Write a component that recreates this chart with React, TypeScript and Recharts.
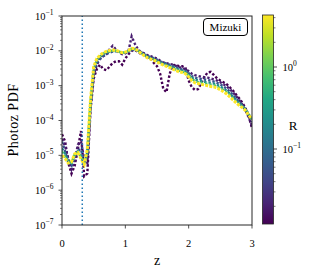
import React from 'react';
import { LineChart, Line, XAxis, YAxis, ReferenceLine } from 'recharts';

const FONT = "'Liberation Serif', 'DejaVu Serif', serif";
const INK = '#262626';

const Z = [0,0.05,0.1,0.15,0.2,0.25,0.3,0.35,0.4,0.45,0.5,0.55,0.6,0.65,0.7,0.75,0.8,0.85,0.9,0.95,1,1.05,1.1,1.15,1.2,1.25,1.3,1.35,1.4,1.45,1.5,1.55,1.6,1.65,1.7,1.75,1.8,1.85,1.9,1.95,2,2.05,2.1,2.15,2.2,2.25,2.3,2.35,2.4,2.45,2.5,2.55,2.6,2.65,2.7,2.75,2.8,2.85,2.9,2.95,3];

const P1 = [4e-5,2.5e-5,6e-6,3e-6,5e-6,1.5e-5,5e-5,2.5e-6,3e-6,2e-4,
  1.6e-3,3e-3,4e-3,3e-3,2.8e-3,3.5e-3,4.5e-3,5e-3,5e-3,4e-3,
  6e-3,8e-3,1.0e-2,1.05e-2,9.5e-3,8e-3,7.5e-3,6.5e-3,6e-3,4.5e-3,
  3.6e-3,2.2e-3,8e-4,6.5e-4,2.2e-3,3.8e-3,4e-3,3.6e-3,3.6e-3,3.2e-3,
  1.4e-3,9e-4,7.5e-4,8e-4,1.2e-3,1.8e-3,2.4e-3,2.5e-3,2e-3,1.6e-3,
  1.4e-3,1.25e-3,1.1e-3,9e-4,7.2e-4,5.5e-4,4.3e-4,3.2e-4,2.2e-4,1.3e-4,
  6e-5];
const P2 = [3e-5,1.8e-5,8e-6,4e-6,7e-6,2e-5,2.5e-5,8e-6,6e-6,2.5e-4,
  2e-3,4e-3,6e-3,7e-3,8e-3,1.1e-2,1.4e-2,1.1e-2,9e-3,8e-3,
  8.5e-3,1.0e-2,2.6e-2,1.6e-2,1.1e-2,9e-3,8.5e-3,7.5e-3,7e-3,6.5e-3,
  6e-3,5.2e-3,4.6e-3,4.4e-3,4.2e-3,4e-3,3.7e-3,3.4e-3,3.2e-3,3e-3,
  2.6e-3,2.2e-3,2e-3,1.9e-3,1.8e-3,1.75e-3,1.7e-3,1.6e-3,1.5e-3,1.4e-3,
  1.25e-3,1.1e-3,9.5e-4,8e-4,6.4e-4,5e-4,3.8e-4,2.8e-4,1.9e-4,1.2e-4,
  7e-5];
const B = [2.5e-5,1.3e-5,6e-6,5e-6,9e-6,1.4e-5,1.5e-5,6e-6,1e-5,3e-4,
  2.5e-3,4.6e-3,5.8e-3,7e-3,8e-3,8.9e-3,9.5e-3,9.8e-3,9.4e-3,8.9e-3,
  8.8e-3,9.3e-3,1.06e-2,1.1e-2,1.0e-2,9e-3,8e-3,7.2e-3,6.6e-3,6.2e-3,
  5.6e-3,5.0e-3,4.6e-3,4.3e-3,4.0e-3,3.7e-3,3.4e-3,3.1e-3,2.9e-3,2.7e-3,
  2.3e-3,1.9e-3,1.7e-3,1.6e-3,1.55e-3,1.5e-3,1.45e-3,1.4e-3,1.3e-3,1.2e-3,
  1.08e-3,9.5e-4,8.2e-4,6.8e-4,5.4e-4,4.3e-4,3.4e-4,2.7e-4,2.0e-4,1.4e-4,
  9e-5];
const T = [1.6e-5,1.1e-5,7e-6,6e-6,1.0e-5,1.3e-5,1.0e-5,6e-6,1.2e-5,3e-4,
  3e-3,5.3e-3,6.7e-3,8e-3,8.9e-3,9.5e-3,9.9e-3,9.9e-3,9.4e-3,8.8e-3,
  9e-3,9.8e-3,1.12e-2,1.12e-2,1.0e-2,8.8e-3,7.7e-3,6.8e-3,6.2e-3,5.8e-3,
  5.2e-3,4.7e-3,4.3e-3,4.0e-3,3.7e-3,3.4e-3,3.1e-3,2.9e-3,2.7e-3,2.5e-3,
  2.1e-3,1.7e-3,1.5e-3,1.4e-3,1.35e-3,1.3e-3,1.25e-3,1.2e-3,1.15e-3,1.05e-3,
  9.5e-4,8.3e-4,7.2e-4,6e-4,4.8e-4,3.9e-4,3.2e-4,2.6e-4,2.1e-4,1.5e-4,
  1.05e-4];
const G = [1.3e-5,9e-6,6.5e-6,6.2e-6,1.05e-5,1.25e-5,9e-6,5.8e-6,1.3e-5,3.5e-4,
  3.2e-3,5.6e-3,7.1e-3,8.4e-3,9.3e-3,9.9e-3,1.02e-2,1.01e-2,9.5e-3,8.8e-3,
  9.1e-3,1.0e-2,1.15e-2,1.14e-2,1.0e-2,8.6e-3,7.4e-3,6.5e-3,6.0e-3,5.6e-3,
  5.0e-3,4.5e-3,4.1e-3,3.8e-3,3.5e-3,3.2e-3,2.9e-3,2.7e-3,2.55e-3,2.35e-3,
  1.95e-3,1.55e-3,1.35e-3,1.27e-3,1.22e-3,1.17e-3,1.12e-3,1.07e-3,1.03e-3,9.5e-4,
  8.5e-4,7.5e-4,6.5e-4,5.4e-4,4.4e-4,3.5e-4,2.9e-4,2.45e-4,2.0e-4,1.45e-4,
  1.08e-4];
const Y = [1.0e-5,8e-6,6e-6,6.5e-6,1.1e-5,1.2e-5,8e-6,5.5e-6,1.5e-5,4e-4,
  3.5e-3,6.0e-3,7.5e-3,8.8e-3,9.6e-3,1.02e-2,1.05e-2,1.03e-2,9.6e-3,8.8e-3,
  9.2e-3,1.02e-2,1.18e-2,1.15e-2,1.0e-2,8.4e-3,7.2e-3,6.3e-3,5.8e-3,5.4e-3,
  4.8e-3,4.3e-3,3.9e-3,3.6e-3,3.3e-3,3.0e-3,2.7e-3,2.5e-3,2.4e-3,2.2e-3,
  1.8e-3,1.4e-3,1.2e-3,1.15e-3,1.1e-3,1.05e-3,1.0e-3,9.5e-4,9.2e-4,8.5e-4,
  7.6e-4,6.7e-4,5.8e-4,4.8e-4,3.9e-4,3.2e-4,2.7e-4,2.3e-4,1.9e-4,1.4e-4,
  1.1e-4];

const SERIES = [
  { key: 'p1', values: P1, color: '#440154' },
  { key: 'p2', values: P2, color: '#481d6f' },
  { key: 'b', values: B, color: '#3a548c' },
  { key: 't', values: T, color: '#238a8d' },
  { key: 'g', values: G, color: '#48c16e' },
  { key: 'y', values: Y, color: '#fde725' },
];

const X_TICKS = [0, 1, 2, 3];
const Y_MAJOR = [1e-7, 1e-6, 1e-5, 1e-4, 1e-3, 1e-2, 1e-1];
const Y_EXP = ['−7', '−6', '−5', '−4', '−3', '−2', '−1'];
const Z_CUT = 0.32;

const CB_MAJOR = [1, 0.1];
const CB_EXP = ['0', '−1'];
const CB_MINOR = [0.02,0.03,0.04,0.05,0.06,0.07,0.08,0.09,0.2,0.3,0.4,0.5,0.6,0.7,0.8,0.9,2,3,4];
const VIRIDIS = ['#440154','#482475','#414487','#355f8d','#2a788e','#21918c','#22a884','#44bf70','#7ad151','#bddf26','#fde725'];

const Y_TICKS: number[] = (() => {
  const t: number[] = [...Y_MAJOR];
  for (let e = -7; e < -1; e++) for (let k = 2; k <= 9; k++) t.push(k * Math.pow(10, e));
  return t.sort((a, b) => a - b);
})();

const data = Z.map((z, i) => {
  const row: any = { z };
  SERIES.forEach((s) => { row[s.key] = s.values[i]; });
  return row;
});

const YTick = (props: any) => {
  const { x, y, payload } = props;
  const idx = Y_MAJOR.indexOf(payload.value);
  if (idx < 0) {
    return <line x1={x} x2={x - 2} y1={y} y2={y} stroke={INK} strokeWidth={0.6} />;
  }
  return (
    <g>
      <line x1={x} x2={x - 3.5} y1={y} y2={y} stroke={INK} strokeWidth={0.8} />
      <text x={x - 8.5} y={y + 3.5} textAnchor="end" fontFamily={FONT} fontSize={10.5} fill="#000">
        <tspan>10</tspan>
        <tspan dy={-4.5} fontSize={7.5}>{Y_EXP[idx]}</tspan>
      </text>
    </g>
  );
};

const XTick = (props: any) => {
  const { x, y, payload } = props;
  return (
    <g>
      <line x1={x} x2={x} y1={y} y2={y + 3.5} stroke={INK} strokeWidth={0.8} />
      <text x={x} y={y + 22} textAnchor="middle" fontFamily={FONT} fontSize={10.5} fill="#000">{payload.value}</text>
    </g>
  );
};

const cbY = (r: number) => 67 - 82 * Math.log10(r);

export default function App() {
  return (
    <div style={{ position: 'absolute', left: 0, top: 0, width: 318, height: 277, background: '#fff' }}>
      <LineChart width={318} height={277} data={data} margin={{ top: 16, right: 66, bottom: 0, left: 0 }}>
        <XAxis dataKey="z" type="number" domain={[0, 3]} ticks={X_TICKS} interval={0} axisLine={false}
          tickLine={false} tickSize={0} tickMargin={0} height={52} tick={<XTick />} allowDataOverflow />
        <YAxis type="number" scale="log" domain={[1e-7, 1e-1]} ticks={Y_TICKS} interval={0} axisLine={false}
          tickLine={false} tickSize={0} tickMargin={0} width={62} tick={<YTick />} allowDataOverflow />
        {SERIES.map((s) => (
          <Line key={s.key} dataKey={s.key} type="linear" stroke={s.color} dot={false} activeDot={false}
            strokeWidth={s.key === 'y' ? 3 : 2.4} strokeDasharray={s.key === 'y' ? '3 1.2' : '2.4 2'}
            isAnimationActive={false} />
        ))}
        <ReferenceLine x={Z_CUT} stroke="#1f77b4" strokeWidth={1.5} strokeDasharray="1.5 2.5" />
      </LineChart>
      <svg width={318} height={277} style={{ position: 'absolute', left: 0, top: 0, pointerEvents: 'none' }}>
        <defs>
          <linearGradient id="vir" x1="0" y1="1" x2="0" y2="0">
            {VIRIDIS.map((c, i) => <stop key={i} offset={i / (VIRIDIS.length - 1)} stopColor={c} />)}
          </linearGradient>
        </defs>
        <rect x={62} y={16} width={190} height={209} fill="none" stroke={INK} strokeWidth={1} />
        <rect x={203.5} y={18.5} width={44} height={17} rx={3.5} fill="#fff" stroke="#000" strokeWidth={1} />
        <text x={225.5} y={31} textAnchor="middle" fontFamily={FONT} fontSize={11} fill="#000">Mizuki</text>
        <text x={17.5} y={120} transform="rotate(-90, 17.5, 120)" textAnchor="middle" fontFamily={FONT} fontSize={14} letterSpacing={0.5} fill="#000">Photoz PDF</text>
        <text x={157} y={265} textAnchor="middle" fontFamily={FONT} fontSize={14} fill="#000">z</text>
        <rect x={262.5} y={15} width={11} height={209} fill="url(#vir)" stroke={INK} strokeWidth={0.8} />
        {CB_MINOR.map((r) => (
          <line key={r} x1={273.5} x2={275.5} y1={cbY(r)} y2={cbY(r)} stroke={INK} strokeWidth={0.6} />
        ))}
        {CB_MAJOR.map((r, i) => (
          <g key={r}>
            <line x1={273.5} x2={277} y1={cbY(r)} y2={cbY(r)} stroke={INK} strokeWidth={0.8} />
            <text x={282.5} y={cbY(r) + 3.5} fontFamily={FONT} fontSize={10.5} fill="#000">
              <tspan>10</tspan>
              <tspan dy={-4.5} fontSize={7.5}>{CB_EXP[i]}</tspan>
            </text>
          </g>
        ))}
        <text x={293} y={130} textAnchor="middle" fontFamily={FONT} fontSize={13} fill="#000">R</text>
      </svg>
    </div>
  );
}
